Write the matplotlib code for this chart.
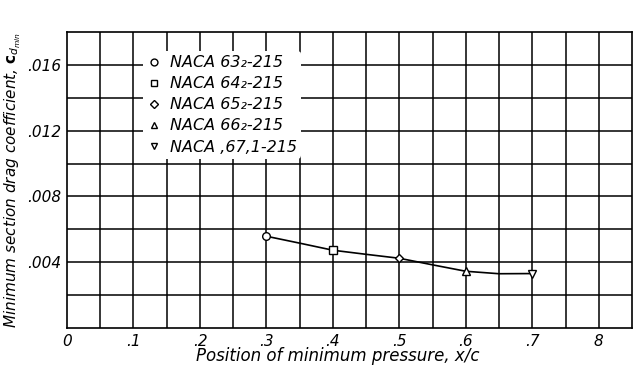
import matplotlib
matplotlib.use("Agg")
import matplotlib.pyplot as plt

# Data
sections = ["NACA 63\u2082-215", "NACA 64\u2082-215", "NACA 65\u2082-215",
            "NACA 66\u2082-215", "NACA ,67,1-215"]
markers = ["o", "s", "D", "^", "v"]
point_x = [0.3, 0.4, 0.5, 0.6, 0.7]
point_cd = [0.00558, 0.00473, 0.00424, 0.00345, 0.00331]

curve_x = [0.3, 0.35, 0.4, 0.45, 0.5, 0.55, 0.6, 0.65, 0.7]
curve_cd = [0.00558, 0.00516, 0.00473, 0.00448, 0.00424, 0.00384, 0.00345, 0.00330, 0.00331]

xtick_vals = [0, 0.1, 0.2, 0.3, 0.4, 0.5, 0.6, 0.7, 0.8]
xtick_labels = ["0", ".1", ".2", ".3", ".4", ".5", ".6", ".7", "8"]
ytick_vals = [0.004, 0.008, 0.012, 0.016]
ytick_labels = [".004", ".008", ".012", ".016"]

plt.rcParams['font.family'] = ['DejaVu Sans']
fig = plt.figure(figsize=(6.42, 3.73), dpi=100)
ax = fig.add_axes([67/642, 1-328/373, (632-67)/642, (328-32)/373])
ax.set_xlim(0, 0.85)
ax.set_ylim(0, 0.018)

# grid
for gx in [i*0.05 for i in range(1, 17)]:
    ax.axvline(gx, color='black', lw=1.1, zorder=1)
for gy in [i*0.002 for i in range(1, 9)]:
    ax.axhline(gy, color='black', lw=1.1, zorder=1)
for s in ax.spines.values():
    s.set_linewidth(1.2)

ax.plot(curve_x, curve_cd, color='black', lw=1.2, zorder=3)
for x, y, m, lab in zip(point_x, point_cd, markers, sections):
    ax.plot([x], [y], linestyle='none', marker=m, markersize=5.5 if m != 'D' else 4.5,
            markerfacecolor='white', markeredgecolor='black', markeredgewidth=1.0,
            label=lab, zorder=4)

ax.set_xticks(xtick_vals)
ax.set_xticklabels(xtick_labels, fontsize=11, fontstyle='italic')
ax.set_yticks(ytick_vals)
ax.set_yticklabels(ytick_labels, fontsize=11, fontstyle='italic')
ax.tick_params(length=0, pad=4)

ax.set_xlabel("Position of minimum pressure, x/c", fontsize=12, fontstyle='italic')
ax.xaxis.set_label_coords(0.48, -0.065)
ax.set_ylabel(r"Minimum section drag coefficient, $\mathbf{c}_{d_{min}}$", fontsize=11,
              fontstyle='italic')
ax.yaxis.set_label_coords(-0.078, 0.5)

leg = ax.legend(loc='upper left', bbox_to_anchor=(0.135, 0.935), frameon=True,
                facecolor='white', edgecolor='none', framealpha=1,
                prop={'style': 'italic', 'size': 11.5}, handlelength=0.8,
                handletextpad=0.6, labelspacing=0.38, borderpad=0.25, borderaxespad=0,
                markerscale=0.9)
leg.set_zorder(5)

fig.savefig("out.png", dpi=100)
